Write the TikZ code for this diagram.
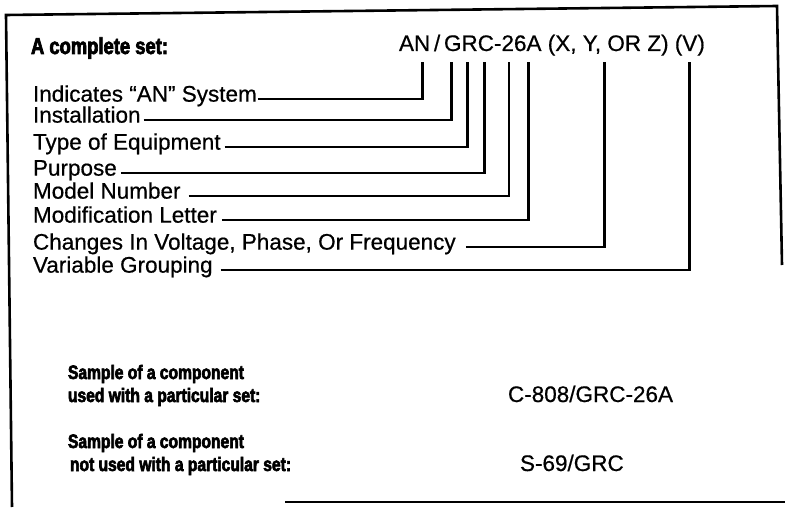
\documentclass[tikz,border=0pt]{standalone}
\usepackage{fontspec}
\setmainfont[FakeBold=0.6]{Liberation Sans}
\newfontfamily\condBold[FakeStretch=0.8,FakeBold=3]{Liberation Sans Bold}
\begin{document}
\begin{tikzpicture}[x=1pt,y=1pt,
  plainText/.style={text=drawColor,inner sep=0pt,outer sep=0pt,font=\fontsize{22.5}{26}\selectfont},
  headText/.style={text=drawColor,anchor=base west,inner sep=0pt,outer sep=0pt,font=\condBold\fontsize{23}{27}\selectfont},
  sampleText/.style={text=drawColor,anchor=base west,inner sep=0pt,outer sep=0pt,font=\condBold\fontsize{19.5}{23}\selectfont},
  leadLine/.style={draw=drawColor,line width=2.7pt,line join=miter,line cap=butt}]
\definecolor{drawColor}{RGB}{0,0,0}
\path[use as bounding box] (0,0) rectangle (785,507);

% frame
\path[draw=drawColor,line width=2.6pt,line join=miter] (12,0) -- (6,492) -- (777,501) -- (782,242);

\path[draw=drawColor,line width=1.2pt] (285,5) -- (600,5);

\path[draw=drawColor,line width=2.6pt] (600,5) -- (785,5);

% complete set
\node[headText] (hdSet) at (31,453) {A complete set:};

\node[plainText,anchor=base west] (code) at (399,456) {AN\,/\,GRC-26A (X, Y, OR Z) (V)};

\coordinate (topAN) at (422.7,445);
\coordinate (topInst) at (451.7,445);
\coordinate (topType) at (467.3,445);
\coordinate (topPurp) at (484.3,445);
\coordinate (topModel) at (509.0,445);
\coordinate (topMod) at (528.3,445);
\coordinate (topVolt) at (604.3,445);
\coordinate (topVar) at (689.3,445);

\node[plainText,anchor=mid west] (lbAN) at (33,408) {Indicates ``AN'' System};

\node[plainText,anchor=mid west] (lbInst) at (33,387) {Installation};

\node[plainText,anchor=mid west] (lbType) at (33,360) {Type of Equipment};

\node[plainText,anchor=mid west] (lbPurp) at (33,334) {Purpose};

\node[plainText,anchor=mid west] (lbModel) at (33,311) {Model Number};

\node[plainText,anchor=mid west] (lbMod) at (33,287) {Modification Letter};

\node[plainText,anchor=mid west] (lbVolt) at (33,260) {Changes In Voltage, Phase, Or Frequency};

\node[plainText,anchor=mid west] (lbVar) at (33,237) {Variable Grouping};

\path[leadLine] ([xshift=1pt]lbAN.mid east) -| (topAN);

\path[leadLine] ([xshift=3pt]lbInst.mid east) -| (topInst);

\path[leadLine] ([xshift=4pt]lbType.mid east) -| (topType);

\path[leadLine] ([xshift=4pt]lbPurp.mid east) -| (topPurp);

\path[leadLine] ([xshift=8pt]lbModel.mid east) -| (topModel);

\path[leadLine] ([xshift=5pt]lbMod.mid east) -| (topMod);

\path[leadLine] ([xshift=10pt]lbVolt.mid east) -| (topVolt);

\path[leadLine] ([xshift=8pt]lbVar.mid east) -| (topVar);

% samples
\node[sampleText] (smpUsedA) at (68,128) {Sample of a component};

\node[sampleText] (smpUsedB) at (68,105) {used with a particular set:};

\node[plainText,anchor=base west] (smpUsedId) at (508,105) {C-808/GRC-26A};

\node[sampleText] (smpNotA) at (68,59) {Sample of a component};

\node[sampleText] (smpNotB) at (70,36) {not used with a particular set:};

\node[plainText,anchor=base west] (smpNotId) at (520,36) {S-69/GRC};
\end{tikzpicture}
\end{document}
